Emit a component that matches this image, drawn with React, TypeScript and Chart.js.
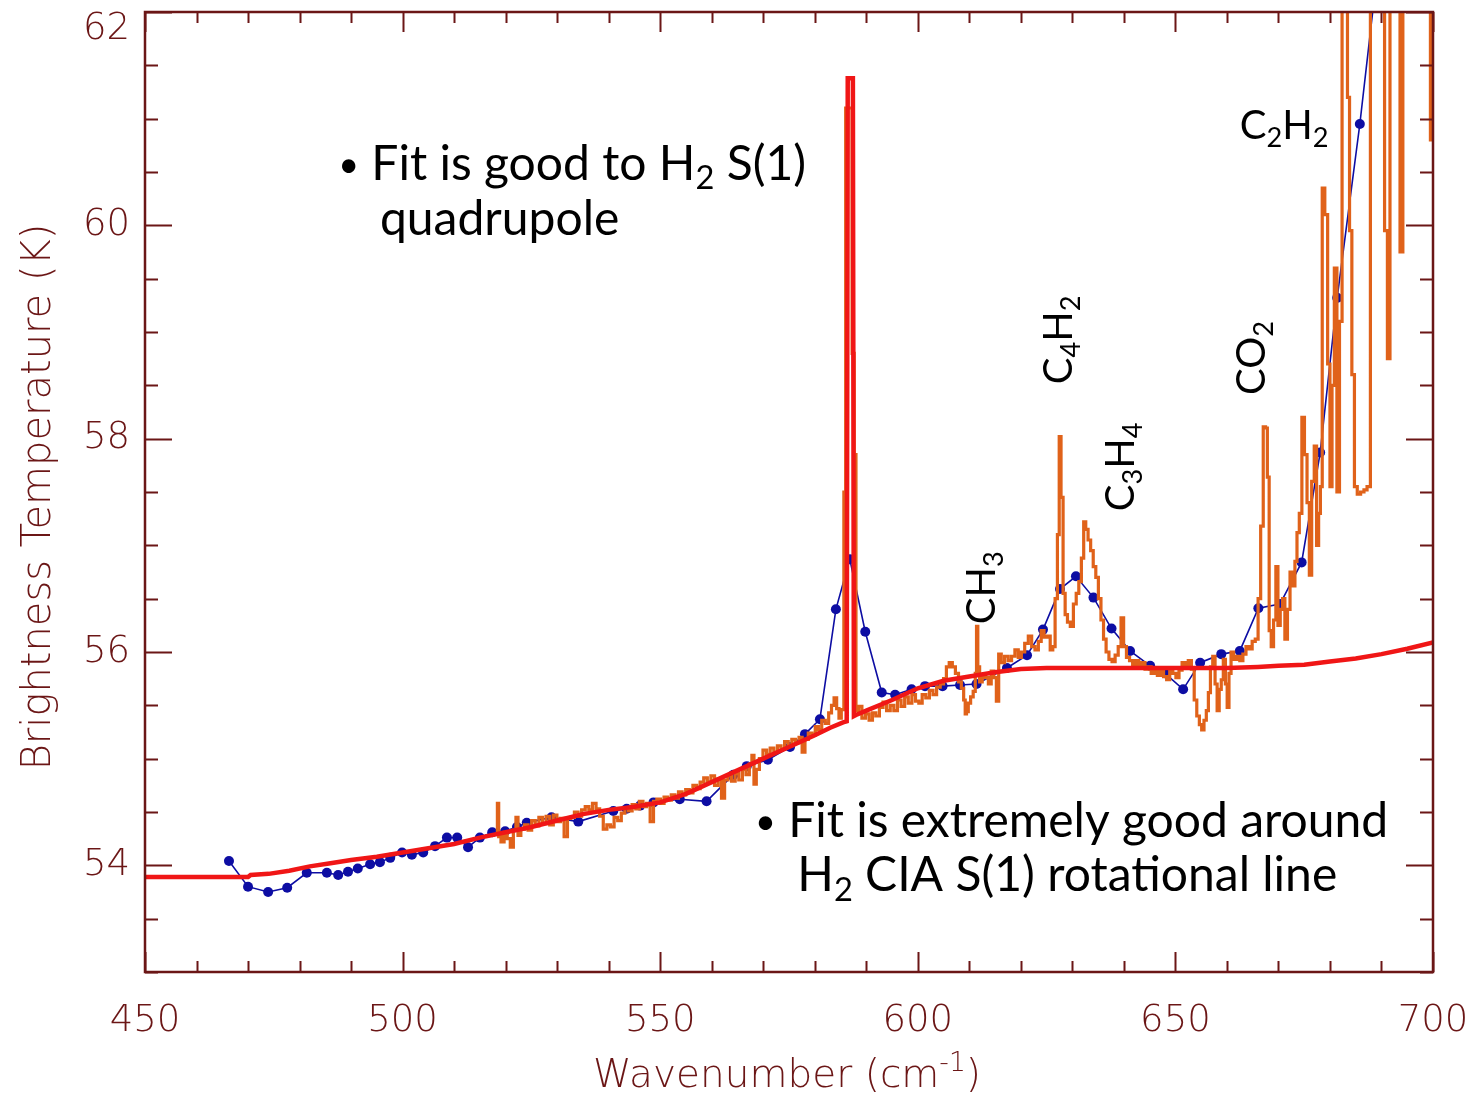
import React, { useEffect, useRef } from 'react';
import { Chart, registerables } from 'chart.js';

Chart.register(...registerables);

// ---------------- data ----------------
// Model brightness temperature (red)
const modelWavenumber = [
  450, 470, 470.5, 474, 478, 482, 486, 490, 495, 500,
  505, 510, 515, 520, 525, 530, 535, 540, 545, 550,
  555, 560, 565, 570, 575, 580, 583, 585.5, 586.2, 586.4,
  587.4, 587.6, 588, 590, 595, 600, 605, 610, 615, 620,
  625, 630, 640, 650, 660, 666, 670, 675, 680, 685,
  690, 695, 700,
];
const modelTemperature = [
  53.89, 53.89, 53.91, 53.92, 53.95, 53.99, 54.02, 54.05, 54.08, 54.12,
  54.16, 54.2, 54.26, 54.31, 54.36, 54.42, 54.48, 54.52, 54.55, 54.59,
  54.67, 54.78, 54.89, 55.0, 55.11, 55.22, 55.29, 55.34, 55.35, 61.38,
  61.38, 55.4, 55.41, 55.45, 55.55, 55.66, 55.73, 55.77, 55.81, 55.84,
  55.85, 55.85, 55.85, 55.85, 55.85, 55.86, 55.87, 55.88, 55.91, 55.94,
  55.98, 56.03, 56.09,
];

// Observed spectrum (orange)
const obsWavenumber = [
  518.3, 518.5, 518.8, 519.4, 520.0, 520.6, 521.2, 521.8, 522.2, 522.6,
  523.3, 524.0, 524.7, 525.4, 526.1, 526.8, 527.5, 528.2, 528.9, 529.6,
  530.3, 531.0, 531.7, 532.3, 533.0, 533.7, 534.4, 535.1, 535.8, 536.5,
  537.2, 537.9, 538.6, 539.3, 540.0, 540.7, 541.4, 542.1, 542.8, 543.5,
  544.2, 544.9, 545.6, 546.3, 547.0, 547.7, 548.4, 549.0, 549.7, 550.4,
  551.1, 551.8, 552.5, 553.2, 553.9, 554.6, 555.3, 556.0, 556.7, 557.4,
  558.1, 558.8, 559.5, 560.2, 560.9, 561.6, 562.2, 562.8, 563.5, 564.2,
  564.9, 565.6, 566.3, 567.0, 567.6, 568.0, 568.4, 568.9, 569.6, 570.3,
  571.0, 571.7, 572.4, 573.1, 573.8, 574.5, 575.2, 575.9, 576.6, 577.3,
  577.8, 578.4, 579.1, 579.8, 580.4, 581.0, 581.7, 582.4, 583.0, 583.5,
  584.0, 584.5, 584.9, 585.4, 585.9, 586.1, 586.5, 587.0, 587.5, 587.8,
  588.2, 588.8, 589.5, 590.2, 590.9, 591.5, 592.2, 592.9, 593.6, 594.3,
  595.0, 595.7, 596.4, 597.1, 597.8, 598.5, 599.2, 599.9, 600.5, 601.2,
  601.9, 602.6, 603.3, 604.0, 604.7, 605.3, 605.8, 606.4, 607.0, 607.6,
  608.2, 608.7, 609.1, 609.3, 609.6, 610.0, 610.5, 611.0, 611.3, 611.5,
  611.8, 612.2, 612.8, 613.4, 614.0, 614.5, 615.0, 615.5, 615.9, 616.5,
  617.2, 617.9, 618.5, 619.2, 619.8, 620.4, 621.1, 621.8, 622.4, 623.1,
  623.7, 624.2, 624.8, 625.4, 626.0, 626.4, 626.9, 627.3, 627.6, 628.0,
  628.4, 628.8, 629.3, 629.9, 630.5, 631.0, 631.5, 632.0, 632.4, 632.8,
  633.3, 633.8, 634.3, 634.8, 635.3, 635.8, 636.3, 636.8, 637.4, 638.0,
  638.6, 639.2, 639.7, 640.2, 640.8, 641.4, 642.0, 642.6, 643.2, 643.8,
  644.4, 645.0, 645.6, 646.2, 646.8, 647.4, 648.0, 648.6, 649.2, 649.8,
  650.4, 651.0, 651.6, 652.2, 652.8, 653.4, 653.9, 654.4, 654.9, 655.3,
  655.8, 656.2, 656.6, 657.0, 657.5, 657.9, 658.3, 658.7, 659.1, 659.5,
  659.9, 660.2, 660.6, 661.0, 661.6, 662.2, 662.8, 663.4, 664.0, 664.6,
  665.2, 665.8, 666.3, 666.8, 667.3, 667.7, 668.0, 668.4, 668.8, 669.3,
  669.7, 670.1, 670.6, 671.0, 671.5, 672.0, 672.5, 673.0, 673.4, 673.8,
  674.3, 674.8, 675.3, 675.8, 676.2, 676.7, 677.2, 677.6, 678.0, 678.3,
  678.7, 679.3, 679.8, 680.2, 680.6, 681.1, 681.6, 682.1, 682.6, 683.2,
  683.6, 684.0, 684.5, 685.0, 685.6, 686.3, 686.9, 687.5, 688.2, 688.8,
  689.5, 690.3, 690.9, 691.4, 691.9, 692.6, 693.3, 693.9, 694.4, 695.5,
  697.0, 698.5, 699.3, 699.7, 700.0,
];
const obsTemperature = [
  54.3, 54.58, 54.27, 54.22, 54.31, 54.25, 54.17, 54.33, 54.45, 54.28,
  54.34, 54.38, 54.33, 54.42, 54.37, 54.45, 54.39, 54.46, 54.38, 54.47,
  54.41, 54.44, 54.27, 54.44, 54.45, 54.5, 54.46, 54.52, 54.55, 54.52,
  54.58, 54.53, 54.46, 54.34, 54.38, 54.36, 54.45, 54.42, 54.49, 54.54,
  54.51, 54.57, 54.53, 54.6, 54.55, 54.58, 54.41, 54.6, 54.62, 54.58,
  54.64, 54.61, 54.66, 54.63, 54.69, 54.66, 54.71, 54.68, 54.75, 54.72,
  54.78, 54.82, 54.78, 54.84, 54.75, 54.81, 54.63, 54.8, 54.84, 54.79,
  54.86, 54.8, 54.9, 54.85, 54.95, 55.03, 54.76, 54.9, 55.0, 55.08,
  55.04, 55.1, 55.06, 55.12, 55.09, 55.16, 55.12, 55.18, 55.15, 55.2,
  55.06, 55.18, 55.24, 55.22, 55.3, 55.27, 55.36, 55.33, 55.43, 55.5,
  55.57, 55.47, 55.38, 55.46, 57.5, 61.1, 61.1, 61.1, 58.8, 57.85,
  55.45, 55.49, 55.38, 55.42, 55.36, 55.43, 55.4, 55.48, 55.53, 55.45,
  55.5, 55.45, 55.55, 55.49, 55.58, 55.52, 55.6, 55.54, 55.52, 55.6,
  55.57, 55.64, 55.6, 55.67, 55.7, 55.75, 55.86, 55.9, 55.86, 55.8,
  55.72, 55.66, 55.55, 55.42, 55.44, 55.52, 55.58, 55.63, 55.8, 56.24,
  55.86, 55.72, 55.78, 55.76, 55.7, 55.82, 55.76, 55.54, 55.98, 55.9,
  55.96, 55.92, 55.96, 56.02, 55.95, 56.0, 56.08, 56.15, 56.05, 56.02,
  56.1, 56.2, 56.14, 56.15, 56.02, 56.05, 56.5, 57.1, 58.02, 57.45,
  56.55, 56.35, 56.28, 56.24, 56.45, 56.55, 56.66, 56.88, 57.22, 57.15,
  57.05, 56.95, 56.8, 56.7, 56.5, 56.3, 56.12, 56.0, 55.93, 55.91,
  55.97, 56.05, 56.32, 56.05, 55.95, 55.92, 55.88, 55.92, 55.86, 55.9,
  55.84, 55.86, 55.8, 55.84, 55.78, 55.82, 55.77, 55.74, 55.84, 55.8,
  55.76, 55.83, 55.9, 55.86, 55.92, 55.84, 55.55, 55.4, 55.32, 55.27,
  55.36, 55.45, 55.62, 55.86, 55.96, 55.7, 55.45, 55.65, 55.74, 55.93,
  55.7, 55.48, 55.8, 56.0, 55.93, 55.96, 55.92, 55.98, 56.05, 56.03,
  56.1, 56.12, 56.5, 57.18, 58.11, 58.1, 57.64, 56.2, 56.05, 56.3,
  56.8, 56.25, 56.4, 56.5, 56.12, 56.4, 56.75, 56.62, 56.85, 57.12,
  57.3, 58.2, 57.85, 57.4, 56.72, 57.6, 57.93, 57.0, 57.3, 57.55,
  60.35, 60.1, 58.7, 57.55, 58.5, 59.6, 57.5, 59.1, 62.6, 62.6,
  61.2, 59.95, 58.6, 57.55, 57.48, 57.5, 57.52, 57.55, 62.6, 62.6,
  62.6, 62.6, 59.95, 58.75, 62.6, 62.6, 62.6, 59.75, 62.6, 62.6,
  62.6, 62.6, 62.6, 60.8, 60.8,
];

// Binned fit points (blue)
const fitWavenumber = [
  466.3, 470.0, 473.9, 477.6, 481.4, 485.3, 487.5, 489.4, 491.3, 493.7,
  495.6, 497.6, 499.9, 501.8, 504.0, 506.3, 508.6, 510.6, 512.7, 515.0,
  517.4, 519.9, 522.2, 524.1, 528.9, 534.1, 540.9, 543.5, 546.1, 548.7,
  553.8, 559.0, 564.2, 566.8, 570.9, 575.2, 578.1, 581.0, 584.1, 586.8,
  589.8, 593.0, 595.6, 598.8, 601.4, 604.8, 608.2, 611.4, 617.3, 621.2,
  624.3, 627.6, 630.7, 634.1, 637.6, 641.2, 645.1, 648.0, 651.5, 654.8,
  658.9, 662.5, 666.1, 670.3, 674.5, 678.1, 681.4, 685.8, 689.0,
];
const fitTemperature = [
  54.04, 53.8, 53.75, 53.79, 53.93, 53.93, 53.91, 53.94, 53.97, 54.01,
  54.03, 54.07, 54.12, 54.1, 54.12, 54.18, 54.26, 54.26, 54.17, 54.26,
  54.31, 54.32, 54.36, 54.4, 54.45, 54.41, 54.51, 54.53, 54.56, 54.59,
  54.62, 54.6, 54.85, 54.93, 54.99, 55.11, 55.23, 55.37, 56.4, 56.87,
  56.19, 55.62, 55.6, 55.65, 55.68, 55.68, 55.69, 55.7, 55.85, 55.97,
  56.21, 56.59, 56.71, 56.51, 56.22, 56.01, 55.87, 55.8, 55.65, 55.9,
  55.98, 56.01, 56.41, 56.45, 56.84, 57.87, 59.32, 60.95, 62.3,
];

// Axes
const xMin = 450;
const xMax = 700;
const yMin = 53;
const yMax = 62;
const xMajorTicks = [450, 500, 550, 600, 650, 700];
const yMajorTicks = [54, 56, 58, 60, 62];
const xMinorStep = 10;
const yMinorStep = 0.5;
const xTitle = 'Wavenumber (cm^-^1)';
const yTitle = 'Brightness Temperature (K)';

// Annotations ('_' = subscript next char)
const noteTexts = [
  '• Fit is good to H_2 S(1)',
  'quadrupole',
  '• Fit is extremely good around',
  'H_2 CIA S(1) rotational line',
  'C_2H_2',
  'CH_3',
  'C_4H_2',
  'C_3H_4',
  'CO_2',
];
const noteX = [487.5, 495.6, 568.4, 576.6, 662.5, 612.1, 627.2, 639.2, 664.5];
const noteY = [60.59, 60.07, 54.43, 53.92, 60.94, 56.26, 58.51, 57.32, 58.41];
const noteVertical = [false, false, false, false, false, true, true, true, true];

// ---------------- styles ----------------
const AXIS_COLOR = '#6b1616';
const RED = '#f01616';
const ORANGE = '#e0621a';
const BLUE = '#0d0da3';
const AXIS_FONT_FAMILY = '"DejaVu Sans"';
const NOTE_FONT_FAMILY = 'Lato, "Open Sans", sans-serif';

type Part = { t: string; k: number };
function parseRich(s: string): Part[] {
  const out: Part[] = [];
  let buf = '';
  for (let i = 0; i < s.length; i++) {
    const c = s[i];
    if ((c === '_' || c === '^') && i + 1 < s.length) {
      if (buf) {
        out.push({ t: buf, k: 0 });
        buf = '';
      }
      out.push({ t: s[i + 1], k: c === '_' ? 1 : 2 });
      i++;
    } else if (c === '•') {
      if (buf) {
        out.push({ t: buf, k: 0 });
        buf = '';
      }
      out.push({ t: c, k: 3 });
    } else buf += c;
  }
  if (buf) out.push({ t: buf, k: 0 });
  return out;
}

function drawRich(
  ctx: CanvasRenderingContext2D,
  s: string,
  x: number,
  y: number,
  size: number,
  family: string,
  weight: string,
  color: string,
  rotate: boolean,
  center: boolean
) {
  const parts = parseRich(s);
  ctx.save();
  ctx.translate(x, y);
  if (rotate) ctx.rotate(-Math.PI / 2);
  ctx.fillStyle = color;
  ctx.textAlign = 'left';
  ctx.textBaseline = 'alphabetic';
  const scaleFor = (k: number) => (k === 1 || k === 2 ? 0.68 : k === 3 ? 0.75 : 1);
  const fontFor = (k: number) => `${weight} ${size * scaleFor(k)}px ${family}`;
  let total = 0;
  for (const p of parts) {
    ctx.font = fontFor(p.k);
    total += ctx.measureText(p.t).width;
  }
  let cx = center ? -total / 2 : 0;
  const base = size * 0.36;
  for (const p of parts) {
    ctx.font = fontFor(p.k);
    const dy = p.k === 1 ? size * 0.2 : p.k === 2 ? -size * 0.4 : p.k === 3 ? -size * 0.05 : 0;
    ctx.fillText(p.t, cx, base + dy);
    cx += ctx.measureText(p.t).width;
  }
  ctx.restore();
}

const framePlugin = {
  id: 'idlFrame',
  afterDatasetsDraw(chart: any) {
    const { ctx, chartArea: a, scales } = chart;
    const xs = scales.x;
    const ys = scales.y;
    ctx.save();
    ctx.strokeStyle = AXIS_COLOR;
    ctx.lineWidth = 2.5;
    ctx.lineCap = 'butt';
    ctx.strokeRect(a.left, a.top, a.right - a.left, a.bottom - a.top);
    ctx.lineWidth = 2;
    ctx.beginPath();
    for (let v = xMin; v <= xMax + 1e-6; v += xMinorStep) {
      const major = xMajorTicks.some((m) => Math.abs(m - v) < 1e-6);
      const len = major ? 20 : 11;
      const px = Math.round(xs.getPixelForValue(v)) + 0.5;
      ctx.moveTo(px, a.bottom);
      ctx.lineTo(px, a.bottom - len);
      ctx.moveTo(px, a.top);
      ctx.lineTo(px, a.top + len);
    }
    for (let v = yMin; v <= yMax + 1e-6; v += yMinorStep) {
      const major = yMajorTicks.some((m) => Math.abs(m - v) < 1e-6);
      const len = major ? 27 : 13;
      const py = Math.round(ys.getPixelForValue(v)) + 0.5;
      ctx.moveTo(a.left, py);
      ctx.lineTo(a.left + len, py);
      ctx.moveTo(a.right, py);
      ctx.lineTo(a.right - len, py);
    }
    ctx.stroke();

    // tick labels
    ctx.fillStyle = AXIS_COLOR;
    ctx.font = `200 37px ${AXIS_FONT_FAMILY}`;
    ctx.textBaseline = 'middle';
    ctx.textAlign = 'center';
    for (const v of xMajorTicks) {
      ctx.fillText(String(v), xs.getPixelForValue(v), a.bottom + 49);
    }
    ctx.textAlign = 'right';
    for (const v of yMajorTicks) {
      const py = Math.max(ys.getPixelForValue(v), a.top + 17);
      ctx.fillText(String(v), a.left - 15, py);
    }
    ctx.restore();

    // axis titles
    drawRich(ctx, xTitle, (a.left + a.right) / 2 - 2, a.bottom + 101, 39, AXIS_FONT_FAMILY, '200', AXIS_COLOR, false, true);
    drawRich(ctx, yTitle, 36, (a.top + a.bottom) / 2 + 5, 40, AXIS_FONT_FAMILY, '200', AXIS_COLOR, true, true);

    // annotations
    for (let i = 0; i < noteTexts.length; i++) {
      const px = xs.getPixelForValue(noteX[i]);
      const py = ys.getPixelForValue(noteY[i]);
      const size = noteVertical[i] || noteTexts[i].startsWith('C_2') ? 40 : 48;
      drawRich(ctx, noteTexts[i], px, py, size, NOTE_FONT_FAMILY, '400', '#000000', noteVertical[i], false);
    }
  },
};

export default function App() {
  const ref = useRef<HTMLCanvasElement>(null);
  useEffect(() => {
    document.body.style.margin = '0';
    const canvas = ref.current;
    if (!canvas) return;
    const chart = new Chart(canvas, {
      type: 'line',
      data: {
        datasets: [
          {
            label: 'Model',
            data: modelWavenumber.map((x, i) => ({ x, y: modelTemperature[i] })),
            borderColor: RED,
            borderWidth: 4.5,
            pointRadius: 0,
            tension: 0,
            clip: 0,
          } as any,
          {
            label: 'Observed',
            data: obsWavenumber.map((x, i) => ({ x, y: obsTemperature[i] })),
            borderColor: ORANGE,
            borderWidth: 3.2,
            pointRadius: 0,
            stepped: 'middle',
            clip: 0,
          } as any,
          {
            label: 'Fit',
            data: fitWavenumber.map((x, i) => ({ x, y: fitTemperature[i] })),
            borderColor: BLUE,
            backgroundColor: BLUE,
            borderWidth: 1.6,
            pointRadius: 5,
            pointBorderWidth: 0,
            pointBackgroundColor: BLUE,
            tension: 0,
            clip: 0,
          } as any,
        ],
      },
      options: {
        responsive: false,
        animation: false,
        devicePixelRatio: 1,
        events: [],
        layout: { padding: { left: 145, right: 39, top: 12, bottom: 124 } },
        plugins: {
          legend: { display: false },
          tooltip: { enabled: false },
          title: { display: false },
        },
        scales: {
          x: { type: 'linear', min: xMin, max: xMax, display: false },
          y: { type: 'linear', min: yMin, max: yMax, display: false },
        },
      },
      plugins: [framePlugin],
    });
    return () => chart.destroy();
  }, []);
  return (
    <div style={{ width: 1472, height: 1096, background: '#ffffff' }}>
      <canvas ref={ref} width={1472} height={1096} style={{ display: 'block', width: 1472, height: 1096 }} />
    </div>
  );
}
